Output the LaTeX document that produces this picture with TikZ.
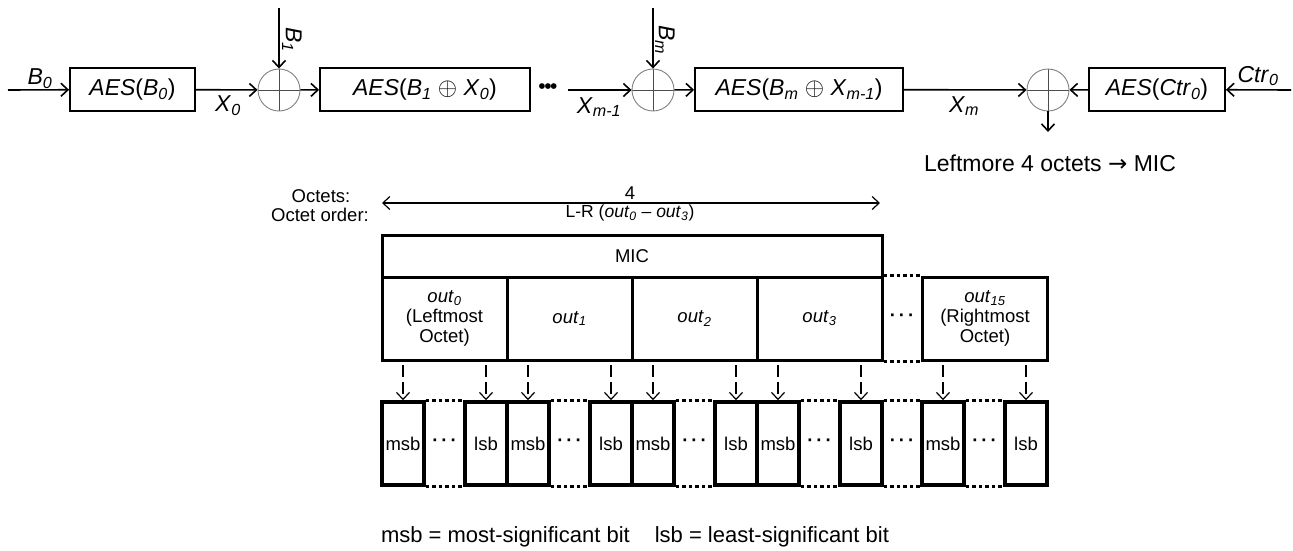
\documentclass[tikz,border=0pt]{standalone}
\usepackage{fontspec}
\setmainfont{Liberation Sans}
\newfontfamily\arrowfont{DejaVu Sans}
\usetikzlibrary{arrows.meta}
\newcommand{\isub}[2]{\textit{#1}\textsubscript{\textit{#2}}}
\newcommand{\skipdots}{\textbf{\textperiodcentered\hspace{3pt}\textperiodcentered\hspace{3pt}\textperiodcentered}}

\begin{document}
\begin{tikzpicture}[x=1pt, y=-1pt, >={Straight Barb[length=7pt,width=13pt]},
    every node/.style={inner sep=0pt},
    aesbox/.style={draw, line width=1.8pt, minimum height=43pt, font=\fontsize{23}{27}\selectfont},
    xorop/.style={circle, draw=gray, line width=0.9pt, minimum size=42pt,
        path picture={\draw[line width=0.9pt, black!70] (path picture bounding box.north) -- (path picture bounding box.south)
            (path picture bounding box.west) -- (path picture bounding box.east);}},
    flow/.style={->, line width=1.6pt},
    toplbl/.style={font=\fontsize{23}{27}\selectfont},
    tbl/.style={font=\fontsize{18.5}{20}\selectfont},
    cellbox/.style={draw, line width=3pt, minimum width=125pt, minimum height=83pt, align=center, tbl},
    bitbox/.style={draw, line width=3.5pt, minimum width=42pt, minimum height=83pt, tbl},
    dotline/.style={line width=3pt, dash pattern=on 3.5pt off 3pt},
    bitarrow/.style={->, line width=1.2pt, dash pattern=on 12pt off 5pt},
]
    \useasboundingbox (0,0) rectangle (1293,551);

    % CBC-MAC chain
    \coordinate (b0in) at (8,90);
    \node[aesbox, minimum width=125pt] (aes0) at (132.5,89.5) {\textit{AES}(\isub{B}{0})};
    \node[xorop] (xor1) at (279,90) {};
    \coordinate (b1in) at (279,8);
    \node[aesbox, minimum width=210pt] (aes1) at (425,89.5) {\textit{AES}(\isub{B}{1} $\oplus$ \isub{X}{0})};
    \node[toplbl] (gap) at (548,89) {\fontsize{21}{21}\selectfont\textbullet\hspace{-1.5pt}\textbullet\hspace{-1.5pt}\textbullet};
    \coordinate (xm1in) at (568,90);
    \node[xorop] (xor2) at (653,90) {};
    \coordinate (bmin) at (653,8);
    \node[aesbox, minimum width=208pt] (aes2) at (799,89.5) {\textit{AES}(\isub{B}{m} $\oplus$ \isub{X}{m-1})};
    \node[xorop] (xor3) at (1048,90) {};
    \node[aesbox, minimum width=136pt] (aesc) at (1157,89.5) {\textit{AES}(\isub{Ctr}{0})};
    \coordinate (ctrin) at (1291,90);
    \coordinate (micout) at (1048,132);

    \draw[flow] (b0in) -- (aes0);
    \draw[flow] (aes0) -- (xor1);
    \draw[flow] (b1in) -- (xor1);
    \draw[flow] (xor1) -- (aes1);
    \draw[flow] (xm1in) -- (xor2);
    \draw[flow] (bmin) -- (xor2);
    \draw[flow] (xor2) -- (aes2);
    \draw[flow] (aes2) -- (xor3);
    \draw[flow] (ctrin) -- (aesc);
    \draw[flow] (aesc) -- (xor3);
    \draw[flow] (xor3) -- (micout);

    % chain labels
    \node[toplbl] (lb0) at (40,79) {\isub{B}{0}};
    \node[toplbl] (lx0) at (228,106) {\isub{X}{0}};
    \node[toplbl, rotate=-90] (lb1) at (292,40) {\isub{B}{1}};
    \node[toplbl] (lxm1) at (599,107) {\isub{X}{m-1}};
    \node[toplbl, rotate=-90] (lbm) at (665,40) {\isub{B}{m}};
    \node[toplbl] (lxm) at (964,106) {\isub{X}{m}};
    \node[toplbl] (lctr) at (1258,76) {\isub{Ctr}{0}};
    \node[toplbl] (lmic) at (1050,163) {Leftmore 4 octets {\arrowfont →} MIC};

    % MIC octets
    \node[tbl] (loct) at (321,196) {Octets:};
    \node[tbl] (lord) at (320,215) {Octet order:};
    \coordinate (spanl) at (382,203);
    \coordinate (spanr) at (880,203);
    \draw[<->, line width=1.2pt] (spanl) -- (spanr);
    \node[tbl] (lfour) at (630,193) {4};
    \node[font=\fontsize{17.5}{20}\selectfont] (lorder) at (630,213) {L-R (\isub{out}{0} -- \isub{out}{3})};

    \node[cellbox, minimum width=500pt, minimum height=42pt] (mic) at (632,256) {MIC};
    \node[cellbox] (oct0) at (444.5,318.5) {\isub{out}{0}\\(Leftmost\\Octet)};
    \node[cellbox] (oct1) at (569.5,318.5) {\isub{out}{1}};
    \node[cellbox] (oct2) at (694.5,318.5) {\isub{out}{2}};
    \node[cellbox] (oct3) at (819.5,318.5) {\isub{out}{3}};
    \node[cellbox] (oct15) at (985,318.5) {\isub{out}{15}\\(Rightmost\\Octet)};
    \draw[dotline] (oct3.north east) -- (oct15.north west);
    \draw[dotline] (oct3.south east) -- (oct15.south west);
    \node[tbl] (octgap) at (902,318) {\skipdots};

    % bits of each octet
    \foreach \k/\x in {0/382,1/507,2/632,3/757,15/922} {
        \node[bitbox] (msb\k) at (\x+21,443.5) {msb};
        \node[bitbox] (lsb\k) at (\x+104,443.5) {lsb};
        \draw[dotline] (msb\k.north east) -- (lsb\k.north west);
        \draw[dotline] (msb\k.south east) -- (lsb\k.south west);
        \node[tbl] (bitgap\k) at (\x+62.5,443) {\skipdots};
        \draw[bitarrow] ([yshift=35pt]msb\k.north) -- (msb\k.north);
        \draw[bitarrow] ([yshift=35pt]lsb\k.north) -- (lsb\k.north);
    }
    \draw[dotline] (lsb3.north east) -- (msb15.north west);
    \draw[dotline] (lsb3.south east) -- (msb15.south west);
    \node[tbl] (bitgap) at (902,443) {\skipdots};

    \node[font=\fontsize{22}{24}\selectfont] (legend) at (635,537) {msb = most-significant bit\hspace{25pt}lsb = least-significant bit};
\end{tikzpicture}
\end{document}
